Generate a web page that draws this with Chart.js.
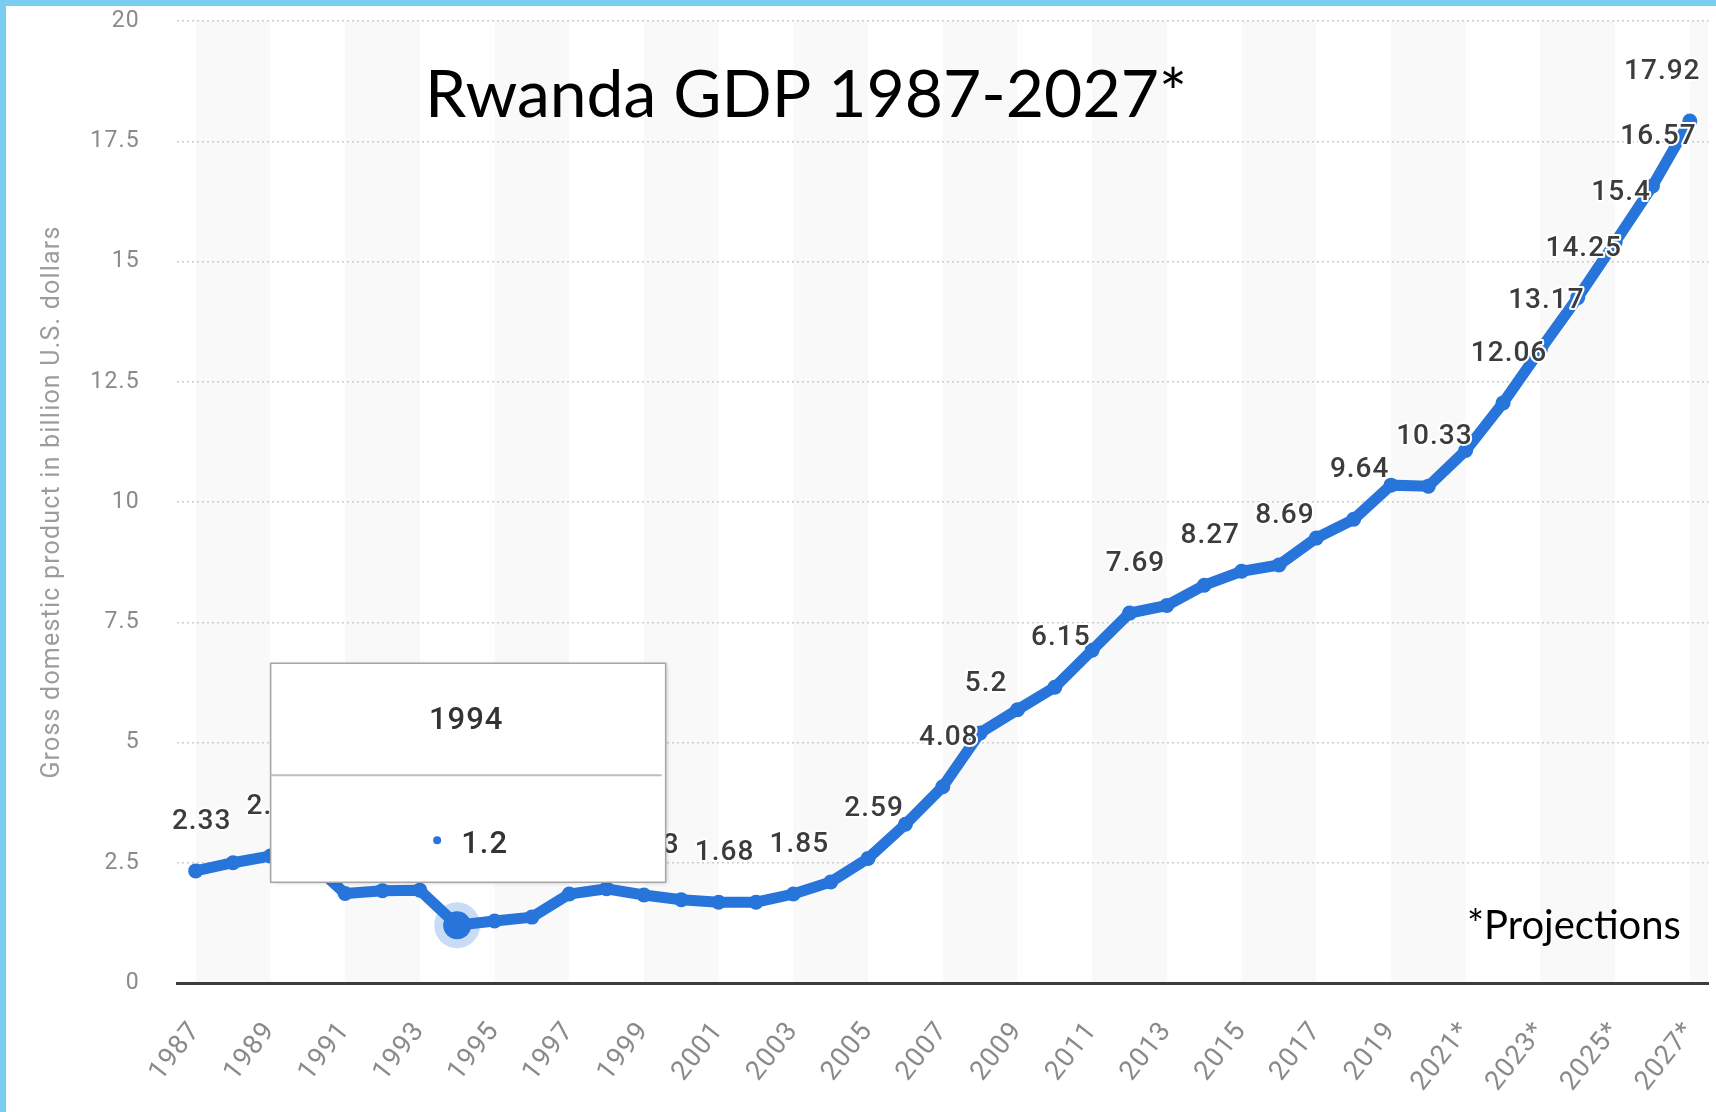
<!DOCTYPE html>
<html>
<head>
<meta charset="utf-8">
<title>Rwanda GDP 1987-2027</title>
<script src="https://cdn.jsdelivr.net/npm/chart.js@4.4.1/dist/chart.umd.min.js"></script>
<style>
  html, body { margin: 0; padding: 0; background: #fff; }
  #wrap { width: 1716px; height: 1112px; }
</style>
</head>
<body>
<div id="wrap"><canvas id="gdpChart" width="1716" height="1112"></canvas></div>
<script>
// ---- Data (billion U.S. dollars) ----
const years = [1987, 1988, 1989, 1990, 1991, 1992, 1993, 1994, 1995, 1996,
  1997, 1998, 1999, 2000, 2001, 2002, 2003, 2004, 2005, 2006,
  2007, 2008, 2009, 2010, 2011, 2012, 2013, 2014, 2015, 2016,
  2017, 2018, 2019, 2020, 2021, 2022, 2023, 2024, 2025, 2026, 2027];
const gdp = [2.33, 2.5, 2.64, 2.58, 1.86, 1.92, 1.93, 1.2, 1.29, 1.37,
  1.85, 1.96, 1.83, 1.73, 1.68, 1.68, 1.85, 2.1, 2.59, 3.3,
  4.08, 5.2, 5.68, 6.15, 6.92, 7.69, 7.85, 8.27, 8.56, 8.69,
  9.25, 9.64, 10.35, 10.33, 11.07, 12.06, 13.17, 14.25, 15.4, 16.57, 17.92];
// years whose value is written above the point
const labelYears = [1987, 1989, 1991, 1993, 1999, 2001, 2003, 2005, 2007, 2008,
  2010, 2012, 2014, 2016, 2018, 2020, 2022, 2023, 2024, 2025, 2026, 2027];
const firstProjection = 2021;
const hoverYear = 1994;

const xLabels = years.map(y => y >= firstProjection ? y + '*' : String(y));

const BLUE = '#2775db';
const TICK_GREY = '#8a8a8a';

// no extra padding from the scales, the layout padding decides the plot area
function noScalePadding(s) {
  s.paddingLeft = 0; s.paddingRight = 0; s.paddingTop = 0; s.paddingBottom = 0;
}

// ---- Plugins ----
const bandsPlugin = {
  id: 'bands',
  beforeDraw(chart) {
    const { ctx, chartArea: a, scales: { x } } = chart;
    ctx.save();
    ctx.fillStyle = '#fff';
    ctx.fillRect(0, 0, chart.width, chart.height);
    ctx.beginPath();
    ctx.rect(a.left, a.top, a.right - a.left, a.bottom - a.top);
    ctx.clip();
    ctx.fillStyle = '#f9f9f9';
    for (let i = 0; i < years.length; i += 4) {
      const x0 = x.getPixelForValue(i);
      const x1 = i + 2 < years.length ? x.getPixelForValue(i + 2) : a.right;
      ctx.fillRect(x0, a.top, x1 - x0, a.bottom - a.top);
    }
    ctx.restore();
    ctx.letterSpacing = '1.2px';
  }
};

const valueLabels = {
  id: 'valueLabels',
  afterDatasetsDraw(chart) {
    const { ctx, chartArea: a } = chart;
    const meta = chart.getDatasetMeta(0);
    ctx.save();
    ctx.font = '500 28px Roboto';
    ctx.letterSpacing = '1px';
    ctx.textAlign = 'center';
    ctx.textBaseline = 'alphabetic';
    ctx.lineJoin = 'round';
    labelYears.forEach(yr => {
      const i = years.indexOf(yr);
      const pt = meta.data[i];
      const text = String(gdp[i]);
      const w = ctx.measureText(text).width;
      const cx = Math.min(pt.x + 6, a.right - 8 - w / 2);
      const by = pt.y - 42;
      ctx.lineWidth = 4;
      ctx.strokeStyle = '#fff';
      ctx.strokeText(text, cx, by);
      ctx.fillStyle = '#3c3c3c';
      ctx.fillText(text, cx, by);
    });
    ctx.restore();
  }
};

const overlay = {
  id: 'overlay',
  afterDraw(chart) {
    const ctx = chart.ctx;
    const meta = chart.getDatasetMeta(0);
    const idx = years.indexOf(hoverYear);
    const pt = meta.data[idx];
    ctx.save();

    // hovered point
    ctx.fillStyle = 'rgba(39,117,219,0.25)';
    ctx.beginPath(); ctx.arc(pt.x, pt.y, 23, 0, Math.PI * 2); ctx.fill();
    ctx.fillStyle = BLUE;
    ctx.beginPath(); ctx.arc(pt.x, pt.y, 14, 0, Math.PI * 2); ctx.fill();

    // tooltip box
    const bw = 395, bh = 219;
    const bx = pt.x + 11 - bw / 2;
    const by = pt.y - 43 - bh;
    ctx.shadowColor = 'rgba(0,0,0,0.18)';
    ctx.shadowBlur = 4;
    ctx.shadowOffsetX = 1;
    ctx.shadowOffsetY = 1;
    ctx.fillStyle = '#fff';
    ctx.fillRect(bx, by, bw, bh);
    ctx.shadowColor = 'transparent';
    ctx.strokeStyle = '#a5a5a5';
    ctx.lineWidth = 1.5;
    ctx.strokeRect(bx, by, bw, bh);
    ctx.strokeStyle = '#bdbdbd';
    ctx.lineWidth = 2;
    ctx.beginPath(); ctx.moveTo(bx, by + 112); ctx.lineTo(bx + bw - 4, by + 112); ctx.stroke();

    const mid = bx + bw / 2;
    ctx.font = '500 31px Roboto';
    ctx.letterSpacing = '1px';
    ctx.fillStyle = '#333';
    ctx.textAlign = 'center';
    ctx.fillText(String(hoverYear), mid - 2, by + 66);
    ctx.fillStyle = BLUE;
    ctx.beginPath(); ctx.arc(mid - 31, by + 177, 4, 0, Math.PI * 2); ctx.fill();
    ctx.fillStyle = '#333';
    ctx.textAlign = 'left';
    ctx.fillText(String(gdp[idx]), mid - 7, by + 190);

    // overlaid title and footnote
    ctx.letterSpacing = '0px';
    ctx.fillStyle = '#000';
    ctx.font = '66px Lato';
    ctx.fillText('Rwanda GDP 1987-2027*', 425, 117);
    ctx.font = '40px Lato';
    ctx.fillText('*Projections', 1467, 939);

    // light blue frame (top and left)
    ctx.fillStyle = '#78cdf0';
    ctx.fillRect(0, 0, chart.width, 6);
    ctx.fillRect(0, 0, 6, chart.height);
    ctx.restore();
  }
};

// ---- Chart ----
Chart.defaults.font.family = 'Roboto';

new Chart(document.getElementById('gdpChart'), {
  type: 'line',
  data: {
    labels: xLabels,
    datasets: [{
      data: gdp,
      borderColor: BLUE,
      backgroundColor: BLUE,
      borderWidth: 11,
      pointRadius: 7.5,
      pointBorderWidth: 0,
      pointBackgroundColor: BLUE,
      tension: 0
    }]
  },
  options: {
    responsive: false,
    devicePixelRatio: 1,
    animation: false,
    events: [],
    layout: { padding: { top: 21, right: 3, bottom: 0, left: 0 } },
    plugins: { legend: { display: false }, tooltip: { enabled: false } },
    scales: {
      x: {
        type: 'category',
        offset: true,
        grid: { display: false },
        border: { display: true, color: '#3d3d3d', width: 3 },
        ticks: {
          autoSkip: false,
          minRotation: 52,
          maxRotation: 52,
          padding: 25,
          color: TICK_GREY,
          font: { size: 27 },
          callback: (v, i) => i % 2 === 0 ? xLabels[i] : ''
        },
        afterFit: s => { s.height = 129; noScalePadding(s); }
      },
      y: {
        min: 0,
        max: 20,
        grid: { color: '#cccccc', lineWidth: 1.5, drawTicks: false },
        border: { display: false, dash: [2, 3] },
        ticks: {
          stepSize: 2.5,
          padding: 37,
          color: TICK_GREY,
          font: { size: 23 }
        },
        title: {
          display: true,
          text: 'Gross domestic product in billion U.S. dollars',
          color: '#9c9c9c',
          font: { size: 25 },
          padding: { top: 38, bottom: 0 }
        },
        afterFit: s => { s.width = 177; noScalePadding(s); }
      }
    }
  },
  plugins: [bandsPlugin, valueLabels, overlay]
});
</script>
</body>
</html>
